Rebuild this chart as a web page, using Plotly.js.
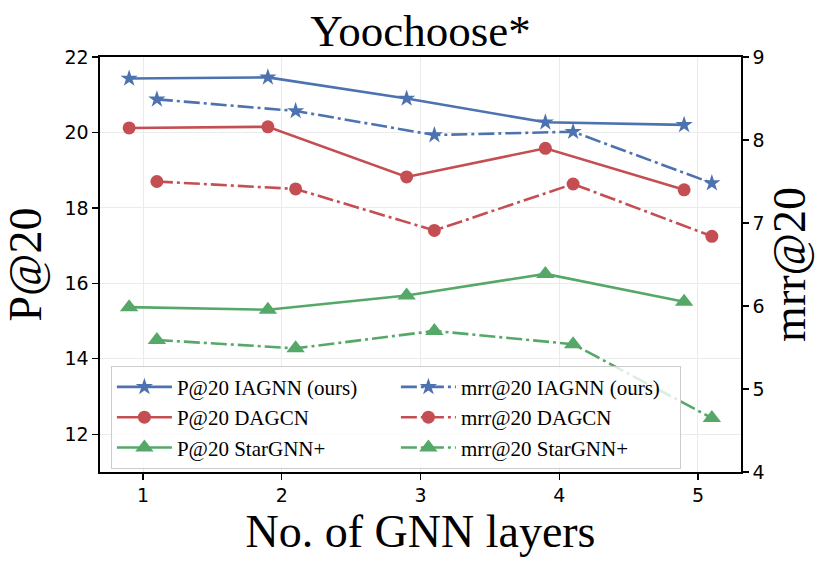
<!DOCTYPE html>
<html>
<head>
<meta charset="utf-8">
<script src="https://cdn.plot.ly/plotly-3.0.1.min.js"></script>
<style>
  html, body { margin: 0; padding: 0; background: #fff; }
  #chart { width: 830px; height: 568px; }
</style>
</head>
<body>
<div id="chart"></div>
<script>
// number of GNN layers (P@20 points sit a bit left, mrr@20 points a bit right)
let layers = [1, 2, 3, 4, 5];
let shift = 0.1;

let p_iagnn   = [21.43, 21.46, 20.90, 20.27, 20.20];
let p_dagcn   = [20.12, 20.15, 18.82, 19.58, 18.48];
let p_star    = [15.37, 15.30, 15.68, 16.25, 15.51];

let mrr_iagnn = [8.49, 8.35, 8.06, 8.10, 7.48];
let mrr_dagcn = [7.50, 7.41, 6.91, 7.47, 6.84];
let mrr_star  = [5.59, 5.49, 5.70, 5.54, 4.65];

const blue = '#4C72B0';
const red = '#C44E52';
const green = '#55A868';
const serif = '"Liberation Serif", "Times New Roman", serif';
const sans = '"DejaVu Sans", sans-serif';
const dashdot = '16px,4px,3px,4px';

let x_p = layers.map(v => v - shift);
let x_mrr = layers.map(v => v + shift);

function series(name, x, y, color, symbol, size, axis, dash) {
    return {
        x: x,
        y: y,
        yaxis: axis,
        mode: 'lines+markers',
        name: name,
        line: {color: color, width: 2.6, dash: dash},
        marker: {color: color, symbol: symbol, size: size}
    };
}

let traces = [
    series('P@20 IAGNN (ours)', x_p, p_iagnn, blue, 'star', 13, 'y', 'solid'),
    series('mrr@20 IAGNN (ours)', x_mrr, mrr_iagnn, blue, 'star', 13, 'y2', dashdot),
    series('P@20 DAGCN', x_p, p_dagcn, red, 'circle', 13, 'y', 'solid'),
    series('mrr@20 DAGCN', x_mrr, mrr_dagcn, red, 'circle', 13, 'y2', dashdot),
    series('P@20 StarGNN+', x_p, p_star, green, 'triangle-up', 16, 'y', 'solid'),
    series('mrr@20 StarGNN+', x_mrr, mrr_star, green, 'triangle-up', 16, 'y2', dashdot)
];

let layout = {
    width: 830,
    height: 568,
    margin: {l: 100, r: 88.5, t: 56.7, b: 95.7},
    paper_bgcolor: '#fff',
    plot_bgcolor: '#fff',
    showlegend: true,
    title: {
        text: 'Yoochoose*',
        font: {family: serif, size: 45, color: '#000'},
        x: 0.5, xref: 'paper',
        y: 0.947, yref: 'container', yanchor: 'middle'
    },
    xaxis: {
        range: [0.69, 5.31],
        tickvals: layers,
        ticks: 'outside', ticklen: 6, tickwidth: 1.3, tickcolor: '#000',
        tickfont: {family: sans, size: 19, color: '#000'},
        showline: true, linecolor: '#000', linewidth: 1.6, mirror: true,
        showgrid: true, gridcolor: '#ebebeb', gridwidth: 1,
        zeroline: false,
        title: {text: 'No. of GNN layers', font: {family: serif, size: 46, color: '#000'}, standoff: 2}
    },
    yaxis: {
        range: [11, 22],
        tickvals: [12, 14, 16, 18, 20, 22],
        ticks: 'outside', ticklen: 6, tickwidth: 1.3, tickcolor: '#000',
        tickfont: {family: sans, size: 19, color: '#000'},
        showline: true, linecolor: '#000', linewidth: 1.6,
        showgrid: true, gridcolor: '#ebebeb', gridwidth: 1,
        zeroline: false,
        title: {text: 'P@20', font: {family: serif, size: 46, color: '#000'}, standoff: 12}
    },
    yaxis2: {
        range: [4, 9],
        tickvals: [4, 5, 6, 7, 8, 9],
        overlaying: 'y',
        side: 'right',
        ticks: 'outside', ticklen: 6, tickwidth: 1.3, tickcolor: '#000',
        tickfont: {family: sans, size: 19, color: '#000'},
        showline: true, linecolor: '#000', linewidth: 1.6,
        showgrid: false,
        zeroline: false,
        title: {text: 'mrr@20', font: {family: serif, size: 46, color: '#000'}, standoff: 2}
    },
    legend: {
        orientation: 'h',
        entrywidth: 214,
        itemwidth: 55,
        x: 0.017, xanchor: 'left',
        y: 0.256, yanchor: 'top',
        bgcolor: 'rgba(255,255,255,0.8)',
        bordercolor: '#cccccc',
        borderwidth: 1,
        font: {family: serif, size: 21, color: '#000'}
    }
};

Plotly.newPlot('chart', traces, layout, {displayModeBar: false, staticPlot: true});
</script>
</body>
</html>
